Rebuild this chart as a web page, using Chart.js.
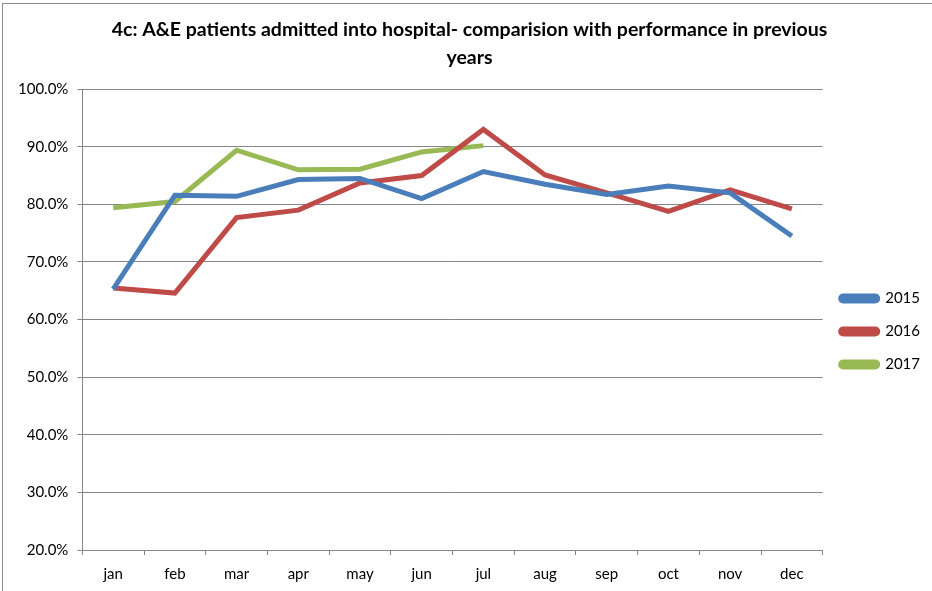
<!DOCTYPE html>
<html>
<head>
<meta charset="utf-8">
<script src="https://cdn.jsdelivr.net/npm/chart.js@4/dist/chart.umd.min.js"></script>
<style>
  html, body { margin: 0; padding: 0; background: #fff; }
  #wrap { position: absolute; left: 2px; top: 3px; width: 930px; height: 588px; border-left: 1px solid #8c8c8c; border-top: 1px solid #8c8c8c; }
  canvas { position: absolute; left: -3px; top: -4px; }
</style>
</head>
<body>
<div id="wrap"><canvas id="lineChart" width="932" height="591"></canvas></div>
<script>
let months = ['jan', 'feb', 'mar', 'apr', 'may', 'jun', 'jul', 'aug', 'sep', 'oct', 'nov', 'dec'];
let values2015 = [65.3, 81.6, 81.4, 84.3, 84.5, 81.0, 85.7, 83.5, 81.7, 83.2, 82.0, 74.5];
let values2016 = [65.5, 64.6, 77.7, 79.0, 83.7, 85.0, 93.0, 85.1, 82.0, 78.8, 82.5, 79.2];
let values2017 = [79.4, 80.5, 89.4, 86.0, 86.1, 89.1, 90.2];
let colorHex = ['#4A7EBB', '#BE4B48', '#98B954'];

Chart.defaults.font.family = 'Lato, "Open Sans", sans-serif';
Chart.defaults.color = '#000';

let ctx = document.getElementById('lineChart').getContext('2d');

function series(label, data, color) {
  return {
    label: label,
    data: data.map(v => v / 100),
    borderColor: color,
    backgroundColor: color,
    borderWidth: 5,
    pointRadius: 0,
    tension: 0,
    fill: false
  };
}

const lineChart = new Chart(ctx,
  {
    type: 'line',
    data:
    {
      labels: months,
      datasets: [
        series('2015', values2015, colorHex[0]),
        series('2016', values2016, colorHex[1]),
        series('2017', values2017, colorHex[2])
      ]
    },
    options:
    {
      responsive: false,
      animation: false,
      layout: { padding: { left: 9, right: 2, bottom: -2, top: 0 } },
      plugins:
      {
        title:
        {
          display: true,
          text: ['4c: A&E patients admitted into hospital- comparision with performance in previous', 'years'],
          color: '#000',
          font: { size: 19.5, weight: 'bold', lineHeight: 1.44 },
          padding: { top: 16, bottom: 17 }
        },
        legend:
        {
          position: 'right',
          // empty legend title only pushes the items down to where the reference has them
          title: { display: true, text: '', font: { size: 14, lineHeight: 1 }, padding: { top: 0, bottom: 56 } },
          labels:
          {
            boxWidth: 37,
            boxHeight: 5,
            useBorderRadius: true,
            borderRadius: 2.5,
            padding: 18,
            font: { size: 15 },
            color: '#000'
          }
        },
        tooltip: { enabled: false }
      },
      scales:
      {
        x:
        {
          offset: true,
          grid: { display: true, drawOnChartArea: false, offset: true, color: '#868686', tickLength: 5 },
          border: { color: '#868686', width: 1 },
          ticks: { font: { size: 15 }, padding: 10, color: '#000' }
        },
        y:
        {
          min: 0.2,
          max: 1.0,
          grid: { color: '#868686', tickLength: 5 },
          border: { color: '#868686', width: 1 },
          ticks:
          {
            stepSize: 0.1,
            font: { size: 15 },
            padding: 9,
            color: '#000',
            callback: (value) => (value * 100).toFixed(1) + '%'
          }
        }
      }
    }
  });
</script>
</body>
</html>
